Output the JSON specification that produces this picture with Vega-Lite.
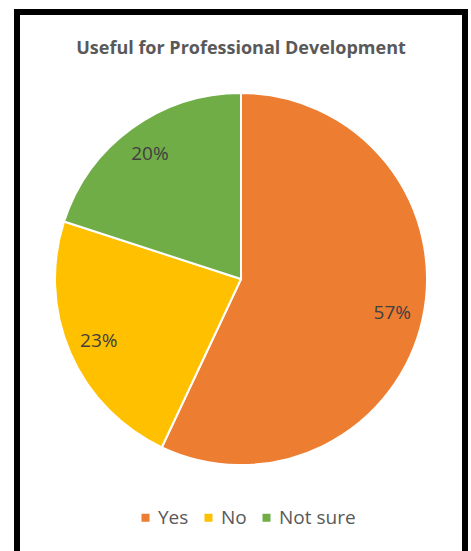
{
  "$schema": "https://vega.github.io/schema/vega-lite/v6.json",
  "autosize": {"type": "none"},
  "padding": {"top": 12, "left": 17, "right": 6, "bottom": 0},
  "width": 448,
  "height": 560,
  "background": "white",
  "view": {"stroke": "black", "strokeWidth": 6, "fill": "white"},
  "config": {
    "font": "Open Sans"
  },
  "title": {
    "text": "Useful for Professional Development",
    "offset": -46,
    "fontSize": 18,
    "fontWeight": "bold",
    "color": "#595959",
    "font": "Open Sans",
    "anchor": "middle"
  },
  "data": {
    "values": [
      {"answer": "Yes", "pct": 57, "label": "57%", "ord": 1},
      {"answer": "No", "pct": 23, "label": "23%", "ord": 2},
      {"answer": "Not sure", "pct": 20, "label": "20%", "ord": 3}
    ]
  },
  "encoding": {
    "theta": {"field": "pct", "type": "quantitative", "stack": true},
    "order": {"field": "ord", "type": "quantitative"}
  },
  "layer": [
    {
      "mark": {"type": "arc", "outerRadius": 186, "stroke": "white", "strokeWidth": 2, "yOffset": -13},
      "encoding": {
        "color": {
          "field": "answer",
          "type": "nominal",
          "scale": {"domain": ["Yes", "No", "Not sure"], "range": ["#ED7D31", "#FFC000", "#70AD47"]},
          "legend": {
            "title": null,
            "orient": "none",
            "direction": "horizontal",
            "legendX": 119,
            "legendY": 496,
            "symbolType": "square",
            "symbolSize": 64,
            "symbolStrokeWidth": 0,
            "labelFontSize": 19,
            "labelColor": "#595959",
            "labelFont": "Open Sans",
            "columnPadding": 10,
            "labelOffset": 3
          }
        }
      }
    },
    {
      "mark": {"type": "text", "radius": 155, "fontSize": 19, "color": "#404040", "font": "Open Sans", "yOffset": -13},
      "encoding": {
        "text": {"field": "label", "type": "nominal"}
      }
    }
  ]
}
